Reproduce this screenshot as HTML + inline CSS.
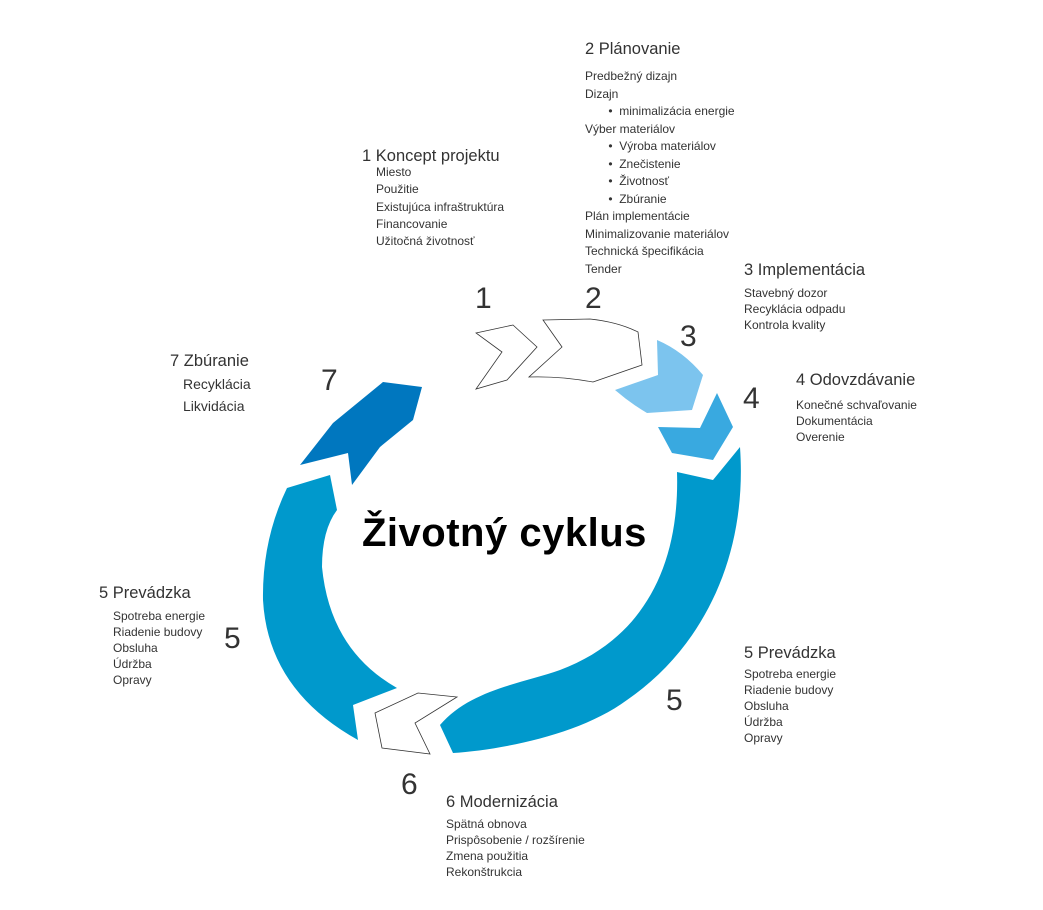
<!DOCTYPE html>
<html><head><meta charset="utf-8"><style>
body{margin:0;width:1043px;height:910px;background:#fff;position:relative;overflow:hidden;font-family:"Liberation Sans",sans-serif;color:#333}
.t{position:absolute;white-space:nowrap}
.h{font-size:16.5px;line-height:20px}
.l{font-size:12px}
.n{position:absolute;font-size:30px;line-height:30px;color:#333}
</style></head><body>
<svg width="1043" height="910" style="position:absolute;left:0;top:0">
<polygon points="476,333 513,325 537,347 507,380 476,389 502,352" fill="#fff" stroke="#333" stroke-width="0.8"/>
<path d="M543,320 L590,319 Q618,322 638,332 L642,365 L593,382 Q560,376 529,377 L562,347 Z" fill="#fff" stroke="#333" stroke-width="0.8"/>
<path d="M657,340 Q683,351 703,375 L692,410 L647,413 Q630,403 615,390 L658,375 Z" fill="#7cc4ee"/>
<polygon points="717,393 733,427 713,460 672,453 658,427 700,428" fill="#39a9e0"/>
<path d="M740,447 C748,560 700,650 627,700 C580,735 500,750 453,753 L440,725 C470,690 520,684 560,670 C640,640 680,570 677,472 L713,480 Z" fill="#0099cc"/>
<polygon points="375,713 418,693 457,697 415,723 430,754 382,748" fill="#fff" stroke="#333" stroke-width="0.8"/>
<path d="M287,488 Q262,540 263,600 Q268,690 358,740 L353,705 L397,688 Q330,650 322,567 Q322,530 337,510 L330,475 Z" fill="#0099cc"/>
<polygon points="300,465 333,423 383,382 422,387 413,420 380,447 352,485 348,453" fill="#0077bf"/>
</svg>
<div class="t" style="left:362px;top:509px;font-size:40px;font-weight:bold;color:#000;line-height:48px;letter-spacing:0.5px">Životný cyklus</div>

<div class="n" style="left:475px;top:284px">1</div>
<div class="n" style="left:585px;top:284px">2</div>
<div class="n" style="left:680px;top:322px">3</div>
<div class="n" style="left:743px;top:384px">4</div>
<div class="n" style="left:321px;top:366px">7</div>
<div class="n" style="left:224px;top:624px">5</div>
<div class="n" style="left:666px;top:686px">5</div>
<div class="n" style="left:401px;top:770px">6</div>

<div class="t h" style="left:585px;top:39px">2 Plánovanie</div>
<div class="t l" style="left:585px;top:68px;line-height:17.5px">Predbežný dizajn<br>Dizajn<br>&nbsp;&nbsp;&nbsp;&nbsp;&nbsp;&nbsp;&nbsp;•&nbsp;&nbsp;minimalizácia energie<br>Výber materiálov<br>&nbsp;&nbsp;&nbsp;&nbsp;&nbsp;&nbsp;&nbsp;•&nbsp;&nbsp;Výroba materiálov<br>&nbsp;&nbsp;&nbsp;&nbsp;&nbsp;&nbsp;&nbsp;•&nbsp;&nbsp;Znečistenie<br>&nbsp;&nbsp;&nbsp;&nbsp;&nbsp;&nbsp;&nbsp;•&nbsp;&nbsp;Životnosť<br>&nbsp;&nbsp;&nbsp;&nbsp;&nbsp;&nbsp;&nbsp;•&nbsp;&nbsp;Zbúranie<br>Plán implementácie<br>Minimalizovanie materiálov<br>Technická špecifikácia<br>Tender</div>

<div class="t h" style="left:362px;top:146px">1 Koncept projektu</div>
<div class="t l" style="left:376px;top:164px;line-height:17.3px">Miesto<br>Použitie<br>Existujúca infraštruktúra<br>Financovanie<br>Užitočná životnosť</div>

<div class="t h" style="left:744px;top:260px">3 Implementácia</div>
<div class="t l" style="left:744px;top:285px;line-height:16px">Stavebný dozor<br>Recyklácia odpadu<br>Kontrola kvality</div>

<div class="t h" style="left:796px;top:370px">4 Odovzdávanie</div>
<div class="t l" style="left:796px;top:397px;line-height:16px">Konečné schvaľovanie<br>Dokumentácia<br>Overenie</div>

<div class="t h" style="left:170px;top:351px">7 Zbúranie</div>
<div class="t" style="left:183px;top:373px;font-size:14px;line-height:22px">Recyklácia<br>Likvidácia</div>

<div class="t h" style="left:99px;top:583px">5 Prevádzka</div>
<div class="t l" style="left:113px;top:608px;line-height:16px">Spotreba energie<br>Riadenie budovy<br>Obsluha<br>Údržba<br>Opravy</div>

<div class="t h" style="left:744px;top:643px">5 Prevádzka</div>
<div class="t l" style="left:744px;top:666px;line-height:16px">Spotreba energie<br>Riadenie budovy<br>Obsluha<br>Údržba<br>Opravy</div>

<div class="t h" style="left:446px;top:792px">6 Modernizácia</div>
<div class="t l" style="left:446px;top:816px;line-height:16px">Spätná obnova<br>Prispôsobenie / rozšírenie<br>Zmena použitia<br>Rekonštrukcia</div>
</body></html>
